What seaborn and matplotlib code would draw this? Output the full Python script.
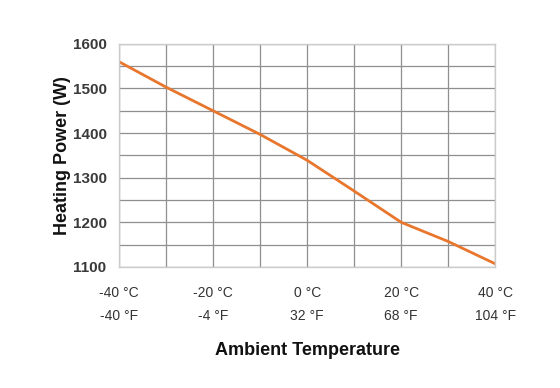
import matplotlib
matplotlib.use("Agg")
import matplotlib.pyplot as plt
import seaborn as sns
import pandas as pd

temps_c = [-40, -30, -20, -10, 0, 10, 20, 30, 40]
power_w = [1560, 1503, 1450, 1397, 1339, 1270, 1200, 1157, 1107]
xtick_vals = [-40, -20, 0, 20, 40]
xtick_labels = ["-40 °C\n-40 °F", "-20 °C\n-4 °F", "0 °C\n32 °F", "20 °C\n68 °F", "40 °C\n104 °F"]
ytick_vals = [1100, 1200, 1300, 1400, 1500, 1600]

sns.set_theme(style="white")
fam = ["Liberation Sans Narrow", "Liberation Sans", "DejaVu Sans"]
plt.rcParams["font.family"] = fam

df = pd.DataFrame({"t": temps_c, "p": power_w})

fig = plt.figure(figsize=(5.6, 3.88), dpi=100)
ax = fig.add_axes([0.2125, 0.312, 0.672, 0.575])

ax.grid(True, color="#8f8f8f", linewidth=0.9)
ax.set_axisbelow(True)

sns.lineplot(data=df, x="t", y="p", ax=ax, color="#E8762C", linewidth=2.0)

ax.set_xlim(-40, 40)
ax.set_ylim(1100, 1600)

ygrid = list(range(1100, 1601, 50))
ax.set_yticks(ygrid)
ax.set_yticklabels([str(v) if v in ytick_vals else "" for v in ygrid])
xgrid = list(range(-40, 41, 10))
ax.set_xticks(xgrid)
ax.set_xticklabels([xtick_labels[xtick_vals.index(v)] if v in xtick_vals else "" for v in xgrid],
                   linespacing=1.75)

ax.tick_params(axis="x", length=0, pad=14, labelsize=10, labelcolor="#333333")
ax.tick_params(axis="y", length=0, pad=9, labelsize=11, labelcolor="#3a3a3a")
for lbl in ax.get_yticklabels():
    lbl.set_fontweight("bold")

for s in ax.spines.values():
    s.set_color("#cccccc")
    s.set_linewidth(1.0)

ax.set_xlabel("Ambient Temperature", fontsize=13, fontweight="bold", color="#111111", labelpad=14)
ax.set_ylabel("Heating Power (W)", fontsize=13, fontweight="bold", color="#111111", labelpad=1)

fig.savefig("out.png", dpi=100)
